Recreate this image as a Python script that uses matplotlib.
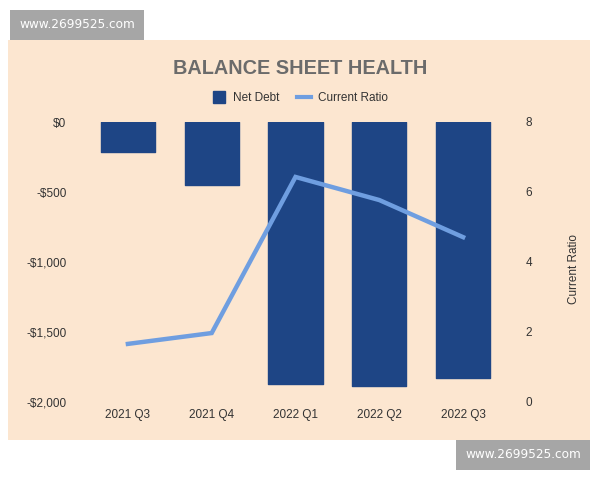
import matplotlib
matplotlib.use("Agg")
import matplotlib.pyplot as plt
from matplotlib.patches import Rectangle
from matplotlib.lines import Line2D
import numpy as np

quarters = ["2021 Q3", "2021 Q4", "2022 Q1", "2022 Q2", "2022 Q3"]
net_debt = [-214, -450, -1871, -1886, -1829]
current_ratio = [1.66, 1.97, 6.43, 5.77, 4.71]
left_ticks = [0, -500, -1000, -1500, -2000]
left_labels = ["$0", "-$500", "-$1,000", "-$1,500", "-$2,000"]
right_ticks = [0, 2, 4, 6, 8]

BG = "#fce6d0"
BAR = "#1e4585"
LINE = "#6f9ee0"
TXT = "#333333"
WM = "#a6a6a6"

plt.rcParams["font.family"] = ["Liberation Sans", "DejaVu Sans"]

fig = plt.figure(figsize=(6, 4.8), dpi=100)
fig.patch.set_facecolor("white")


def px_rect(x0, y0, x1, y1, color, z):
    fig.add_artist(Rectangle((x0 / 600, 1 - y1 / 480), (x1 - x0) / 600,
                             (y1 - y0) / 480, transform=fig.transFigure,
                             facecolor=color, edgecolor="none", zorder=z))


px_rect(8, 40, 590, 440, BG, -5)
px_rect(10, 10, 144, 40, WM, 5)
px_rect(456, 440, 590, 470, WM, 5)

ax = fig.add_axes([86 / 600, 1 - 402 / 480, 419 / 600, 280 / 480])
ax.set_facecolor("none")
x = np.arange(len(quarters))
ax.bar(x, net_debt, width=0.645, color=BAR, edgecolor=BAR, linewidth=1,
       joinstyle="round", zorder=2)
ax.set_xlim(-0.5, len(quarters) - 0.5)
ax.set_ylim(-2000, 0)
ax.set_yticks(left_ticks)
ax.set_yticklabels(left_labels)
ax.set_xticks(x)
ax.set_xticklabels(quarters)
ax.tick_params(axis="y", length=0, pad=14, labelsize=8.5, labelcolor=TXT,
               right=False, labelright=False)
ax.tick_params(axis="x", length=0, pad=5, labelsize=8.5, labelcolor=TXT)
for s in ax.spines.values():
    s.set_visible(False)

ax2 = ax.twinx()
ax2.plot(x, current_ratio, color=LINE, linewidth=3.2, zorder=3,
         solid_joinstyle="miter")
ax2.set_ylim(0, 8)
ax2.set_yticks(right_ticks)
ax2.tick_params(axis="y", length=0, pad=15, labelsize=8.5, labelcolor=TXT,
                left=False, labelleft=False)
ax2.set_ylabel("Current Ratio", fontsize=8.5, color=TXT)
ax2.yaxis.set_label_coords((568 - 86) / 419, (402 - 269) / 280)
for s in ax2.spines.values():
    s.set_visible(False)

fig.text(0.5, 1 - 68 / 480, "BALANCE SHEET HEALTH", ha="center", va="center",
         fontsize=14.3, fontweight="bold", color="#6b6b6b")

handles = [Line2D([], [], marker="s", linestyle="none", markersize=9,
                  markerfacecolor=BAR, markeredgecolor=BAR),
           Line2D([], [], color=LINE, linewidth=3)]
fig.legend(handles, ["Net Debt", "Current Ratio"], loc="center",
           bbox_to_anchor=(0.5, 1 - 98 / 480), ncol=2, frameon=False,
           fontsize=8.5, handlelength=1.2, columnspacing=1.5,
           handletextpad=0.6, labelcolor=TXT)

fig.text(77 / 600, 1 - 25 / 480, "www.2699525.com", ha="center", va="center",
         fontsize=8.7, color="white", family=["DejaVu Sans"], zorder=6)
fig.text(523 / 600, 1 - 455 / 480, "www.2699525.com", ha="center", va="center",
         fontsize=8.7, color="white", family=["DejaVu Sans"], zorder=6)

fig.savefig("out.png", dpi=100, facecolor=fig.get_facecolor())
